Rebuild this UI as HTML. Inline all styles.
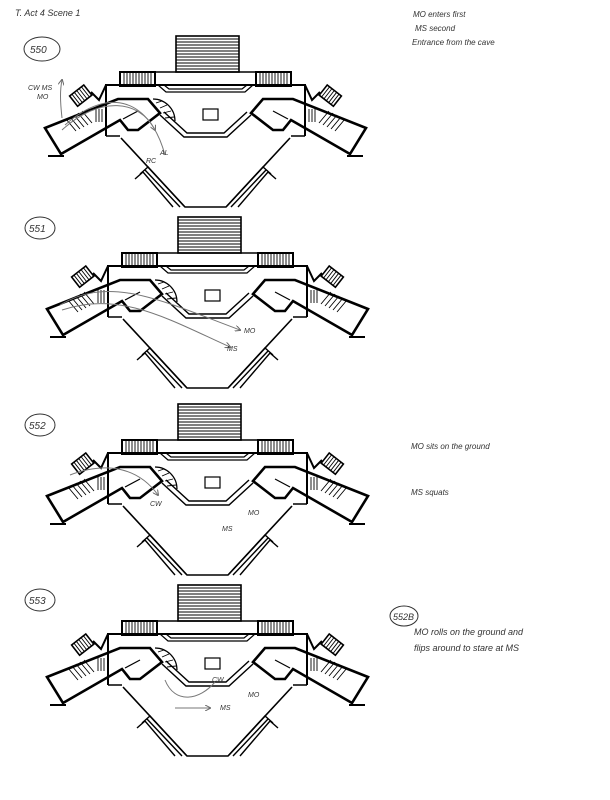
<!DOCTYPE html>
<html><head><meta charset="utf-8"><style>
html,body{margin:0;padding:0;background:#fff;}
svg{display:block;}
.t{font-family:"Liberation Sans",sans-serif;font-style:italic;fill:#333;}
</style></head><body>
<svg width="610" height="800" viewBox="0 0 610 800" xmlns="http://www.w3.org/2000/svg">
<defs>
<g id="half" fill="none" stroke="#000">
  <rect x="122" y="253" width="35" height="14" stroke-width="2"/>
  <path d="M126,254v12M129,254v12M132,254v12M135,254v12M138,254v12M141,254v12M144,254v12M147,254v12M150,254v12M153,254v12" stroke-width="0.9"/>
  <path d="M108,317 L108,266 L207.5,266" stroke-width="2"/>
  <path d="M108,266 L101,281 L93,273" stroke-width="2"/>
  <g transform="translate(83,277) rotate(-38)">
    <rect x="-9" y="-7" width="18" height="13" stroke-width="1.6"/>
    <path d="M-6,-7v13M-3,-7v13M0,-7v13M3,-7v13M6,-7v13" stroke-width="0.9"/>
  </g>
  <path d="M47,309 L120,280 L150,280 L162,294 L140,311 L130,311 L122,301 L63,335 Z" stroke-width="2.6"/>
  <path d="M50,337 L66,337" stroke-width="2"/>
  <path d="M68,300 L78,312 M72,298 L82,310 M76,296 L86,308 M80,294 L90,306 M84,292 L94,304" stroke-width="0.9"/>
  <path d="M98,290v13M101,290v13M104,290v13" stroke-width="0.9"/>
  <path d="M125,300 L140,292" stroke-width="1.2"/>
  <path d="M108,317 L122,317" stroke-width="1.5"/>
  <path d="M123,319 L187,388 L207.5,388" stroke-width="1.6"/>
  <path d="M142,355 L150,348 L186,387 M147,351 L182,388 M137,360 L145,353 L175,388" stroke-width="1.4"/>
  <path d="M162,296 L186,318 L207.5,318 M166,293 L189,314 L207.5,314" stroke-width="1.4"/>
  <path d="M160,266 L168,273 L207.5,273 M166,266 L171,270 L207.5,270" stroke-width="1.2"/>
  <path d="M122,253 L207.5,253" stroke-width="1.6"/>
</g>
<g id="stage">
  <use href="#half"/>
  <use href="#half" transform="translate(415,0) scale(-1,1)"/>
  <g fill="none" stroke="#000">
  <path d="M155,280 A22,22 0 0 1 177,302" stroke-width="1.2"/>
  <path d="M158,284 L164,282 M162,289 L169,286 M165,294 L173,292 M167,299 L176,298" stroke-width="0.9"/>
  </g>
  <rect x="178" y="217" width="63" height="36" fill="none" stroke="#000" stroke-width="1.6"/>
  <path d="M178,220h63M178,223h63M178,226h63M178,229h63M178,232h63M178,235h63M178,238h63M178,241h63M178,244h63M178,247h63M178,250h63" stroke="#000" stroke-width="0.9"/>
  <rect x="205" y="290" width="15" height="11" fill="none" stroke="#000" stroke-width="1.2"/>
</g>
<marker id="ah" markerWidth="6" markerHeight="6" refX="5" refY="3" orient="auto"><path d="M0,0 L6,3 L0,6" fill="none" stroke="#666" stroke-width="1"/></marker>
</defs>

<text class="t" x="15" y="16" font-size="9">T. Act 4 Scene 1</text>
<text class="t" x="413" y="17" font-size="8">MO enters first</text>
<text class="t" x="415" y="31" font-size="8">MS second</text>
<text class="t" x="412" y="45" font-size="8">Entrance from the cave</text>

<use href="#stage" transform="translate(-2,-181)"/>
<use href="#stage"/>
<use href="#stage" transform="translate(0,187)"/>
<use href="#stage" transform="translate(0,368)"/>

<ellipse cx="42" cy="49" rx="18" ry="12" fill="none" stroke="#333" stroke-width="1"/>
<text class="t" x="30" y="53" font-size="10">550</text>
<ellipse cx="40" cy="228" rx="15" ry="11" fill="none" stroke="#333" stroke-width="1"/>
<text class="t" x="29" y="232" font-size="10">551</text>
<ellipse cx="40" cy="425" rx="15" ry="11" fill="none" stroke="#333" stroke-width="1"/>
<text class="t" x="29" y="429" font-size="10">552</text>
<ellipse cx="40" cy="600" rx="15" ry="11" fill="none" stroke="#333" stroke-width="1"/>
<text class="t" x="29" y="604" font-size="10">553</text>

<g fill="none" stroke="#777" stroke-width="1">
  <path d="M62,130 C100,95 140,100 155,130" marker-end="url(#ah)"/>
  <path d="M65,125 C110,85 150,100 165,155"/>
  <path d="M62,118 C60,100 60,90 62,80" marker-end="url(#ah)"/>
  <path d="M60,305 C110,275 160,300 240,330" marker-end="url(#ah)"/>
  <path d="M62,310 C120,290 170,320 230,347" marker-end="url(#ah)"/>
  <path d="M70,475 C110,460 140,470 158,495" marker-end="url(#ah)"/>
  <path d="M165,680 C175,705 200,700 215,682"/>
  <path d="M175,708 L210,708" marker-end="url(#ah)"/>
</g>
<text class="t" x="28" y="90" font-size="7">CW MS</text>
<text class="t" x="37" y="99" font-size="7">MO</text>
<text class="t" x="160" y="155" font-size="7">AL</text>
<text class="t" x="146" y="163" font-size="7">RC</text>
<text class="t" x="244" y="333" font-size="7">MO</text>
<text class="t" x="227" y="351" font-size="7">MS</text>
<text class="t" x="150" y="506" font-size="7">CW</text>
<text class="t" x="248" y="515" font-size="7">MO</text>
<text class="t" x="222" y="531" font-size="7">MS</text>
<text class="t" x="212" y="682" font-size="7">CW</text>
<text class="t" x="248" y="697" font-size="7">MO</text>
<text class="t" x="220" y="710" font-size="7">MS</text>

<text class="t" x="411" y="449" font-size="8">MO sits on the ground</text>
<text class="t" x="411" y="495" font-size="8">MS squats</text>
<ellipse cx="404" cy="616" rx="14" ry="10" fill="none" stroke="#333" stroke-width="1"/>
<text class="t" x="393" y="620" font-size="9">552B</text>
<text class="t" x="414" y="635" font-size="9">MO rolls on the ground and</text>
<text class="t" x="414" y="651" font-size="9">flips around to stare at MS</text>
</svg>
</body></html>
